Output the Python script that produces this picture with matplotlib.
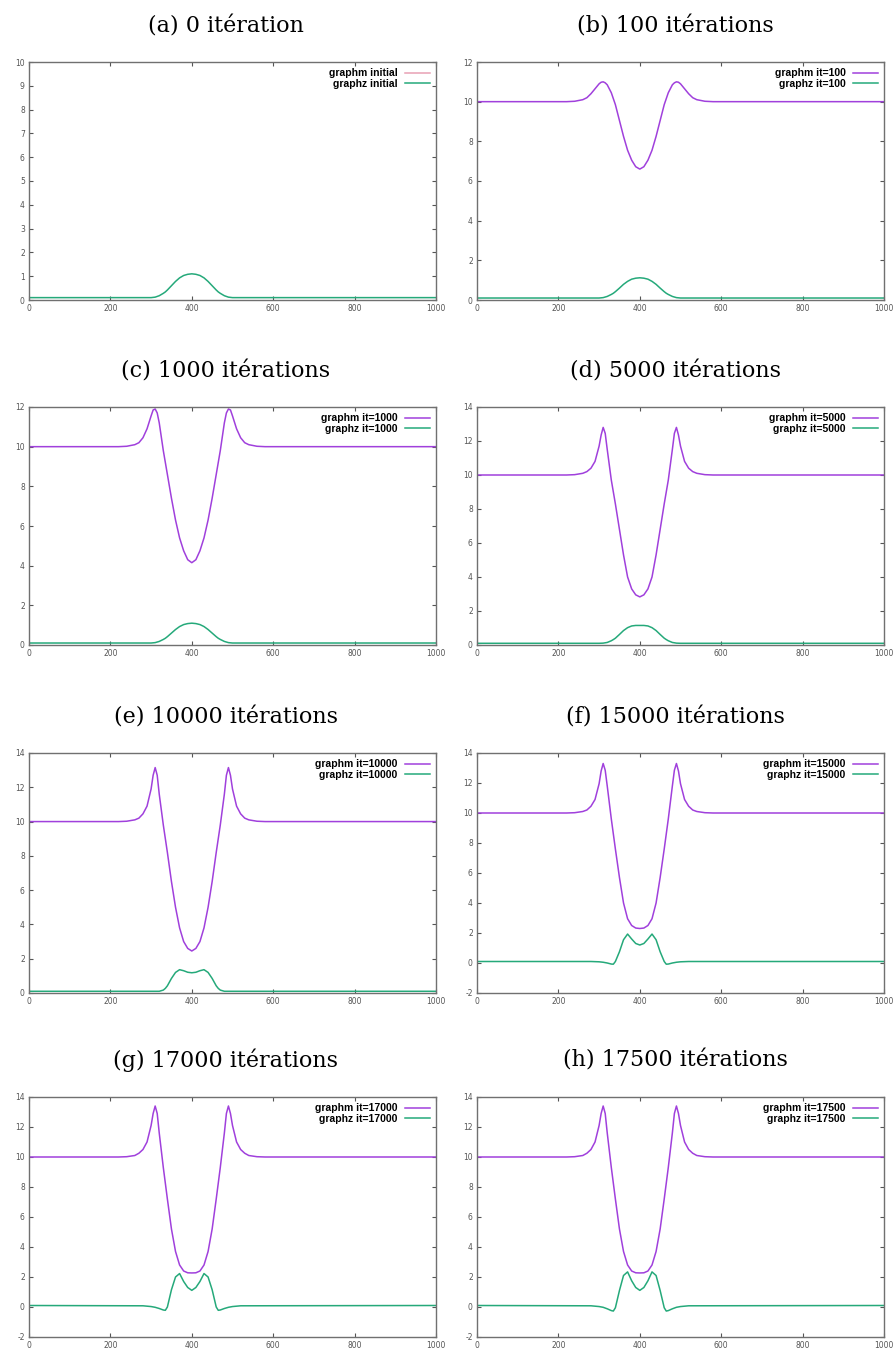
import matplotlib
matplotlib.use("Agg")
import matplotlib.pyplot as plt
import numpy as np

plt.rcParams['axes.unicode_minus'] = False

# titres et legendes
titles = ["(a) 0 itération", "(b) 100 itérations", "(c) 1000 itérations", "(d) 5000 itérations",
          "(e) 10000 itérations", "(f) 15000 itérations", "(g) 17000 itérations", "(h) 17500 itérations"]
tags = ["initial", "it=100", "it=1000", "it=5000", "it=10000", "it=15000", "it=17000", "it=17500"]
ylims = [(0, 10), (0, 12), (0, 12), (0, 14), (0, 14), (-2, 14), (-2, 14), (-2, 14)]
ysteps = [1, 2, 2, 2, 2, 2, 2, 2]

# abscisses des points
xm = [0, 220, 240, 260, 270, 280, 290, 300, 305, 310, 315, 320, 330, 340, 350, 360, 370, 380, 390, 400,
      410, 420, 430, 440, 450, 460, 470, 480, 485, 490, 495, 500, 510, 520, 530, 540, 560, 580, 1000]
xz = [0, 280, 300, 310, 320, 330, 335, 340, 350, 360, 370, 380, 390, 400,
      410, 420, 430, 440, 450, 460, 465, 470, 480, 490, 500, 520, 1000]

# graphm
xm_a = [0, 1000]
m_a = [10, 10]
m_b = [10.0, 10.0, 10.02, 10.1, 10.2, 10.4, 10.65, 10.9, 10.98, 11.0, 10.95, 10.85, 10.45, 9.85, 9.05, 8.25, 7.55, 7.05, 6.72, 6.6,
       6.72, 7.05, 7.55, 8.25, 9.05, 9.85, 10.45, 10.85, 10.95, 11.0, 10.98, 10.9, 10.65, 10.4, 10.2, 10.1, 10.02, 10.0, 10.0]
m_c = [10.0, 10.0, 10.02, 10.1, 10.2, 10.45, 10.9, 11.55, 11.85, 11.9, 11.7, 11.2, 9.8, 8.6, 7.4, 6.3, 5.4, 4.75, 4.3, 4.15,
       4.3, 4.75, 5.4, 6.3, 7.4, 8.6, 9.8, 11.2, 11.7, 11.9, 11.85, 11.55, 10.9, 10.45, 10.2, 10.1, 10.02, 10.0, 10.0]
m_d = [10.0, 10.0, 10.02, 10.1, 10.2, 10.4, 10.8, 11.7, 12.35, 12.8, 12.45, 11.5, 9.7, 8.3, 6.8, 5.3, 4.0, 3.3, 2.95, 2.83,
       2.95, 3.3, 4.0, 5.3, 6.8, 8.3, 9.7, 11.5, 12.45, 12.8, 12.35, 11.7, 10.8, 10.4, 10.2, 10.1, 10.02, 10.0, 10.0]
m_e = [10.0, 10.0, 10.02, 10.1, 10.2, 10.45, 10.9, 11.9, 12.7, 13.15, 12.7, 11.6, 9.8, 8.2, 6.5, 5.0, 3.8, 3.0, 2.6, 2.45,
       2.6, 3.0, 3.8, 5.0, 6.5, 8.2, 9.8, 11.6, 12.7, 13.15, 12.7, 11.9, 10.9, 10.45, 10.2, 10.1, 10.02, 10.0, 10.0]
m_f = [10.0, 10.0, 10.02, 10.1, 10.2, 10.45, 10.9, 11.95, 12.8, 13.3, 12.85, 11.8, 9.6, 7.6, 5.7, 4.0, 2.95, 2.5, 2.33, 2.3,
       2.33, 2.5, 2.95, 4.0, 5.7, 7.6, 9.6, 11.8, 12.85, 13.3, 12.8, 11.95, 10.9, 10.45, 10.2, 10.1, 10.02, 10.0, 10.0]
m_g = [10.0, 10.0, 10.02, 10.1, 10.25, 10.5, 11.0, 12.1, 12.9, 13.4, 12.9, 11.6, 9.3, 7.2, 5.2, 3.7, 2.8, 2.4, 2.28, 2.27,
       2.28, 2.4, 2.8, 3.7, 5.2, 7.2, 9.3, 11.6, 12.9, 13.4, 12.9, 12.1, 11.0, 10.5, 10.25, 10.1, 10.02, 10.0, 10.0]
m_h = [10.0, 10.0, 10.02, 10.1, 10.25, 10.5, 11.0, 12.1, 12.9, 13.4, 12.9, 11.6, 9.3, 7.2, 5.2, 3.7, 2.8, 2.4, 2.28, 2.27,
       2.28, 2.4, 2.8, 3.7, 5.2, 7.2, 9.3, 11.6, 12.9, 13.4, 12.9, 12.1, 11.0, 10.5, 10.25, 10.1, 10.02, 10.0, 10.0]

# graphz
z_a = [0.1, 0.1, 0.1, 0.12, 0.18, 0.28, 0.34, 0.42, 0.6, 0.78, 0.93, 1.03, 1.08, 1.1,
       1.08, 1.03, 0.93, 0.78, 0.6, 0.42, 0.34, 0.28, 0.18, 0.12, 0.1, 0.1, 0.1]
z_b = [0.1, 0.1, 0.1, 0.12, 0.18, 0.28, 0.34, 0.42, 0.6, 0.79, 0.94, 1.05, 1.1, 1.12,
       1.1, 1.05, 0.94, 0.79, 0.6, 0.42, 0.34, 0.28, 0.18, 0.12, 0.1, 0.1, 0.1]
z_c = [0.1, 0.1, 0.1, 0.12, 0.18, 0.28, 0.34, 0.42, 0.6, 0.78, 0.93, 1.03, 1.08, 1.1,
       1.08, 1.03, 0.93, 0.78, 0.6, 0.42, 0.34, 0.28, 0.18, 0.12, 0.1, 0.1, 0.1]
z_d = [0.1, 0.1, 0.1, 0.11, 0.15, 0.25, 0.32, 0.4, 0.62, 0.85, 1.02, 1.12, 1.15, 1.15,
       1.15, 1.12, 1.02, 0.85, 0.62, 0.4, 0.32, 0.25, 0.15, 0.11, 0.1, 0.1, 0.1]
z_e = [0.1, 0.1, 0.1, 0.1, 0.1, 0.17, 0.27, 0.42, 0.85, 1.2, 1.36, 1.3, 1.21, 1.18,
       1.21, 1.3, 1.36, 1.2, 0.85, 0.42, 0.27, 0.17, 0.1, 0.1, 0.1, 0.1, 0.1]
z_f = [0.1, 0.1, 0.08, 0.05, 0.0, -0.07, -0.08, 0.1, 0.75, 1.55, 1.93, 1.6, 1.3, 1.2,
       1.3, 1.6, 1.93, 1.55, 0.75, 0.1, -0.08, -0.07, 0.0, 0.05, 0.08, 0.1, 0.1]
z_g = [0.1, 0.08, 0.03, -0.02, -0.1, -0.2, -0.22, 0.0, 1.15, 2.0, 2.23, 1.7, 1.3, 1.11,
       1.3, 1.7, 2.23, 2.0, 1.15, 0.0, -0.22, -0.2, -0.1, -0.02, 0.03, 0.08, 0.1]
z_h = [0.1, 0.08, 0.03, -0.02, -0.12, -0.24, -0.27, -0.05, 1.1, 2.1, 2.34, 1.75, 1.3, 1.11,
       1.3, 1.75, 2.34, 2.1, 1.1, -0.05, -0.27, -0.24, -0.12, -0.02, 0.03, 0.08, 0.1]

ms = [m_a, m_b, m_c, m_d, m_e, m_f, m_g, m_h]
zs = [z_a, z_b, z_c, z_d, z_e, z_f, z_g, z_h]

purple = '#a040dc'
green = '#25a97a'

W = 895.0
H = 1354.0
fig = plt.figure(figsize=(W/100, H/100), dpi=100)

lefts = [29, 477]
tops = [62, 407, 753, 1097]
bottoms = [300, 645, 993, 1337]
titlex = [226, 675]

for i in range(8):
	row = i//2
	col = i % 2
	x0 = lefts[col]
	ax = fig.add_axes([x0/W, 1-bottoms[row]/H, 407/W, (bottoms[row]-tops[row])/H])
	if i == 0:
		ax.plot(xm_a, m_a, color='#e8a0b4', lw=1.1, label='graphm '+tags[i])
	else:
		ax.plot(xm, ms[i], color=purple, lw=1.1, label='graphm '+tags[i])
	ax.plot(xz, zs[i], color=green, lw=1.1, label='graphz '+tags[i])
	ax.set_xlim(0, 1000)
	ax.set_ylim(*ylims[i])
	ax.set_xticks(np.arange(0, 1001, 200))
	ax.set_yticks(np.arange(ylims[i][0], ylims[i][1]+0.1, ysteps[i]))
	ax.tick_params(direction='in', length=3, width=0.8, top=True, right=True,
	               labelsize=5.5, labelcolor='#555555', color='#555555', pad=3)
	for s in ax.spines.values():
		s.set_color('#707070')
		s.set_linewidth(1.0)
	leg = ax.legend(loc='upper right', frameon=False, markerfirst=False,
	                prop={'family': 'Liberation Sans', 'weight': 'bold', 'size': 7.5},
	                handlelength=2.4, handletextpad=0.7, labelspacing=0.05,
	                borderaxespad=0.2, borderpad=0.4)
	for t in leg.get_texts():
		t.set_ha('right')
	fig.text(titlex[col]/W, 1-(tops[row]-30)/H, titles[i], ha='center', va='baseline',
	         family='DejaVu Serif', fontsize=16)

fig.savefig('out.png', dpi=100)
